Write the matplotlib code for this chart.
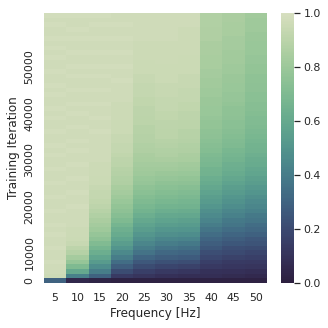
import numpy as np
import pandas as pd
import matplotlib
matplotlib.use("Agg")
import matplotlib.pyplot as plt
import seaborn as sns

sns.set_theme()

freqs = [5, 10, 15, 20, 25, 30, 35, 40, 45, 50]
# logged iterations: the first eval at 0, then every 1000 from 5000 on
iterations = [0] + list(range(5000, 62000, 1000))

# relative fit per frequency, one value per logged iteration
fit_5 = [0.30,
         0.96, 0.97, 0.97, 0.98, 0.97, 0.97, 0.98, 0.97, 0.97, 0.98,
         0.97, 0.98, 0.97, 0.97, 0.98, 0.97, 0.97, 0.98, 0.97, 0.97,
         0.98, 0.97, 0.97, 0.98, 0.97, 0.97, 0.98, 0.97, 0.98, 0.97,
         0.97, 0.98, 0.97, 0.97, 0.98, 0.97, 0.98, 0.97, 0.97, 0.98,
         0.97, 0.98, 0.97, 0.97, 0.98, 0.97, 0.97, 0.98, 0.97, 0.98,
         0.97, 0.98, 0.97, 0.97, 0.98, 0.97, 0.98]
fit_10 = [0.05,
          0.42, 0.60, 0.70, 0.78, 0.83, 0.88, 0.91, 0.94, 0.95, 0.96,
          0.96, 0.97, 0.97, 0.97, 0.97, 0.98, 0.97, 0.97, 0.98, 0.97,
          0.97, 0.98, 0.97, 0.97, 0.98, 0.97, 0.97, 0.98, 0.97, 0.98,
          0.97, 0.97, 0.98, 0.97, 0.97, 0.98, 0.97, 0.98, 0.97, 0.97,
          0.98, 0.97, 0.97, 0.98, 0.97, 0.98, 0.97, 0.97, 0.98, 0.97,
          0.97, 0.98, 0.97, 0.98, 0.97, 0.97, 0.98]
fit_15 = [0.03,
          0.30, 0.40, 0.47, 0.53, 0.58, 0.63, 0.67, 0.71, 0.75, 0.78,
          0.81, 0.83, 0.85, 0.87, 0.89, 0.91, 0.92, 0.93, 0.93, 0.94,
          0.95, 0.95, 0.96, 0.96, 0.96, 0.97, 0.97, 0.97, 0.97, 0.97,
          0.97, 0.98, 0.97, 0.97, 0.98, 0.97, 0.97, 0.98, 0.97, 0.97,
          0.98, 0.97, 0.97, 0.98, 0.97, 0.98, 0.97, 0.97, 0.98, 0.97,
          0.97, 0.98, 0.97, 0.97, 0.98, 0.97, 0.98]
fit_20 = [0.02,
          0.14, 0.21, 0.28, 0.34, 0.40, 0.45, 0.50, 0.54, 0.58, 0.61,
          0.64, 0.67, 0.70, 0.73, 0.75, 0.77, 0.79, 0.81, 0.83, 0.84,
          0.86, 0.87, 0.88, 0.89, 0.90, 0.91, 0.92, 0.93, 0.93, 0.94,
          0.94, 0.95, 0.95, 0.95, 0.96, 0.96, 0.96, 0.96, 0.97, 0.97,
          0.97, 0.97, 0.98, 0.97, 0.97, 0.98, 0.97, 0.97, 0.98, 0.97,
          0.97, 0.98, 0.97, 0.97, 0.98, 0.97, 0.97]
fit_25 = [0.02,
          0.11, 0.16, 0.21, 0.26, 0.31, 0.36, 0.40, 0.44, 0.48, 0.51,
          0.54, 0.57, 0.60, 0.63, 0.66, 0.68, 0.70, 0.72, 0.74, 0.76,
          0.78, 0.79, 0.81, 0.82, 0.83, 0.84, 0.85, 0.86, 0.87, 0.88,
          0.88, 0.89, 0.89, 0.90, 0.90, 0.91, 0.91, 0.92, 0.92, 0.93,
          0.93, 0.93, 0.94, 0.94, 0.95, 0.95, 0.95, 0.96, 0.96, 0.96,
          0.96, 0.97, 0.97, 0.97, 0.97, 0.97, 0.97]
fit_30 = [0.02,
          0.09, 0.13, 0.18, 0.23, 0.28, 0.32, 0.36, 0.40, 0.44, 0.48,
          0.51, 0.54, 0.57, 0.60, 0.63, 0.66, 0.68, 0.70, 0.72, 0.74,
          0.76, 0.78, 0.80, 0.82, 0.83, 0.85, 0.86, 0.87, 0.88, 0.89,
          0.90, 0.90, 0.91, 0.91, 0.92, 0.92, 0.93, 0.93, 0.93, 0.94,
          0.94, 0.94, 0.95, 0.95, 0.95, 0.95, 0.96, 0.96, 0.96, 0.96,
          0.96, 0.97, 0.97, 0.97, 0.97, 0.97, 0.97]
fit_35 = [0.02,
          0.08, 0.12, 0.17, 0.22, 0.27, 0.31, 0.35, 0.39, 0.43, 0.47,
          0.50, 0.53, 0.56, 0.59, 0.62, 0.65, 0.67, 0.69, 0.71, 0.73,
          0.75, 0.77, 0.79, 0.81, 0.82, 0.84, 0.85, 0.86, 0.87, 0.88,
          0.89, 0.89, 0.90, 0.90, 0.91, 0.91, 0.92, 0.92, 0.93, 0.93,
          0.93, 0.94, 0.94, 0.94, 0.95, 0.95, 0.95, 0.95, 0.96, 0.96,
          0.96, 0.96, 0.96, 0.96, 0.97, 0.97, 0.97]
fit_40 = [0.02,
          0.08, 0.10, 0.13, 0.16, 0.19, 0.22, 0.25, 0.28, 0.31, 0.34,
          0.37, 0.40, 0.43, 0.46, 0.48, 0.51, 0.53, 0.55, 0.57, 0.59,
          0.61, 0.63, 0.65, 0.66, 0.68, 0.69, 0.70, 0.72, 0.73, 0.74,
          0.75, 0.76, 0.77, 0.77, 0.78, 0.79, 0.79, 0.80, 0.80, 0.81,
          0.81, 0.82, 0.82, 0.83, 0.83, 0.84, 0.84, 0.84, 0.85, 0.85,
          0.85, 0.86, 0.86, 0.86, 0.87, 0.87, 0.87]
fit_45 = [0.02,
          0.07, 0.09, 0.12, 0.14, 0.17, 0.20, 0.22, 0.25, 0.28, 0.31,
          0.34, 0.37, 0.39, 0.42, 0.44, 0.47, 0.49, 0.51, 0.53, 0.55,
          0.57, 0.59, 0.61, 0.63, 0.64, 0.66, 0.67, 0.68, 0.70, 0.71,
          0.72, 0.73, 0.74, 0.74, 0.75, 0.76, 0.76, 0.77, 0.78, 0.78,
          0.79, 0.79, 0.80, 0.80, 0.81, 0.81, 0.82, 0.82, 0.82, 0.83,
          0.83, 0.83, 0.84, 0.84, 0.84, 0.85, 0.85]
fit_50 = [0.02,
          0.06, 0.08, 0.11, 0.13, 0.16, 0.18, 0.21, 0.24, 0.26, 0.29,
          0.32, 0.34, 0.37, 0.39, 0.42, 0.44, 0.46, 0.48, 0.50, 0.52,
          0.54, 0.56, 0.58, 0.59, 0.61, 0.62, 0.64, 0.65, 0.66, 0.67,
          0.68, 0.69, 0.70, 0.71, 0.71, 0.72, 0.73, 0.73, 0.74, 0.74,
          0.75, 0.75, 0.76, 0.76, 0.77, 0.77, 0.78, 0.78, 0.79, 0.79,
          0.79, 0.80, 0.80, 0.81, 0.81, 0.81, 0.82]

ytick_iters = [0, 10000, 20000, 30000, 40000, 50000]

df = pd.DataFrame({5: fit_5, 10: fit_10, 15: fit_15, 20: fit_20, 25: fit_25,
                   30: fit_30, 35: fit_35, 40: fit_40, 45: fit_45, 50: fit_50},
                  index=iterations)

cmap = sns.cubehelix_palette(start=.5, rot=-.75, reverse=True, as_cmap=True)

fig = plt.figure(figsize=(328 / 72, 328 / 72), dpi=72)
ax = fig.add_axes([0.134, 0.137, 0.680, 0.823])
cax = fig.add_axes([0.857, 0.137, 0.040, 0.823])

sns.heatmap(df, cmap=cmap, vmin=0, vmax=1, ax=ax, cbar_ax=cax,
            xticklabels=freqs, yticklabels=False)
ax.invert_yaxis()

rows = [iterations.index(it) + 0.5 for it in ytick_iters]
ax.set_yticks(rows)
ax.set_yticklabels([str(it) for it in ytick_iters], rotation=90, va="center")
ax.set_xticklabels([str(f) for f in freqs], rotation=0)

ax.set_xlabel("Frequency [Hz]")
ax.set_ylabel("Training Iteration")

cax.set_yticks([0.0, 0.2, 0.4, 0.6, 0.8, 1.0])

fig.savefig("out.png", dpi=72)
